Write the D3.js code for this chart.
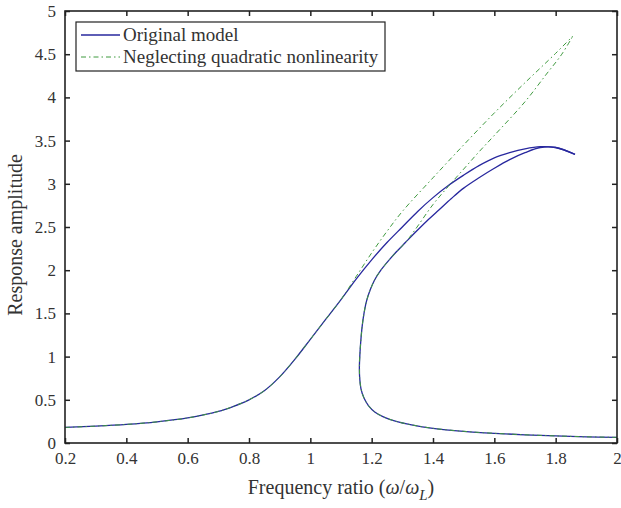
<!DOCTYPE html>
<html>
<head>
<meta charset="utf-8">
<script src="https://cdn.jsdelivr.net/npm/d3@7"></script>
<style>
  html, body { margin: 0; padding: 0; background: #fff; }
  svg { display: block; font-family: "Liberation Serif", "Times New Roman", serif; }
</style>
</head>
<body>
<svg id="chart" width="621" height="508"></svg>
<script>
// Frequency response: amplitude vs. frequency ratio, [ratio, amplitude] pairs.
// Shared low-frequency branch (both models coincide here).
const lowBranch = [
  [0.2, 0.18], [0.3, 0.195], [0.4, 0.215], [0.5, 0.245], [0.6, 0.29],
  [0.7, 0.365], [0.75, 0.425], [0.8, 0.5], [0.85, 0.605], [0.9, 0.765],
  [0.95, 0.97], [1.0, 1.2], [1.05, 1.43], [1.1, 1.66]
];
// Original model: upper (resonant) branch continuing from lowBranch.
const originalUpper = [
  [1.15, 1.9], [1.2, 2.12], [1.25, 2.32], [1.3, 2.5], [1.35, 2.68],
  [1.4, 2.84], [1.45, 2.98], [1.5, 3.1], [1.55, 3.21], [1.6, 3.3],
  [1.65, 3.36], [1.7, 3.405], [1.75, 3.43], [1.8, 3.42], [1.863, 3.34]
];
// Non-resonant branch from high frequency back through the turning point.
const highBranch = [
  [2.0, 0.065], [1.9, 0.072], [1.8, 0.082], [1.7, 0.095], [1.6, 0.112],
  [1.5, 0.135], [1.4, 0.17], [1.33, 0.21], [1.28, 0.25], [1.24, 0.3],
  [1.21, 0.36], [1.19, 0.43], [1.175, 0.52], [1.165, 0.63], [1.161, 0.75],
  [1.16, 0.88], [1.162, 1.05], [1.165, 1.2], [1.169, 1.35], [1.175, 1.5],
  [1.183, 1.64], [1.195, 1.77], [1.21, 1.89], [1.23, 2.0], [1.255, 2.11],
  [1.28, 2.21], [1.31, 2.32]
];
// Original model: middle (unstable) branch rising from highBranch.
const originalMiddle = [
  [1.34, 2.43], [1.38, 2.57], [1.42, 2.7], [1.46, 2.83], [1.5, 2.95],
  [1.55, 3.07], [1.6, 3.18], [1.65, 3.28], [1.7, 3.36], [1.75, 3.42],
  [1.8, 3.42], [1.863, 3.34]
];
// Model neglecting the quadratic nonlinearity: upper and middle branches.
const reducedUpper = [
  [1.15, 1.93], [1.2, 2.2], [1.25, 2.45], [1.3, 2.68], [1.4, 3.07],
  [1.5, 3.45], [1.6, 3.82], [1.7, 4.17], [1.8, 4.51], [1.856, 4.71]
];
const reducedMiddle = [
  [1.34, 2.46], [1.4, 2.76], [1.45, 2.97], [1.5, 3.17], [1.55, 3.37],
  [1.6, 3.56], [1.7, 3.95], [1.77, 4.27], [1.82, 4.5], [1.856, 4.71]
];

const xTicks = [0.2, 0.4, 0.6, 0.8, 1, 1.2, 1.4, 1.6, 1.8, 2];
const yTicks = [0, 0.5, 1, 1.5, 2, 2.5, 3, 3.5, 4, 4.5, 5];
const legendLabels = ["Original model", "Neglecting quadratic nonlinearity"];

const blue = "#28289e";
const green = "#3f9a3f";

const svg = d3.select("#chart");
const m = { left: 65, top: 11, right: 617, bottom: 443 };

const x = d3.scaleLinear().domain([0.2, 2]).range([m.left, m.right]);
const y = d3.scaleLinear().domain([0, 5]).range([m.bottom, m.top]);

svg.append("rect").attr("width", 621).attr("height", 508).attr("fill", "#fff");

const line = d3.line()
  .x(d => x(d[0]))
  .y(d => y(d[1]))
  .curve(d3.curveCatmullRom.alpha(0.5));

const plot = svg.append("g");

// Original model (solid)
[lowBranch.concat(originalUpper), highBranch.concat(originalMiddle)].forEach(pts => {
  plot.append("path").attr("d", line(pts))
    .attr("fill", "none").attr("stroke", blue).attr("stroke-width", 1.3);
});
// Reduced model (dash-dot)
[lowBranch.concat(reducedUpper), highBranch.concat(reducedMiddle)].forEach(pts => {
  plot.append("path").attr("d", line(pts))
    .attr("fill", "none").attr("stroke", green).attr("stroke-width", 1)
    .attr("stroke-dasharray", "5,3,1.5,3");
});

// Axes with inward ticks on all four sides
const tickSize = 17;
const axB = svg.append("g").attr("transform", `translate(0,${m.bottom})`)
  .call(d3.axisBottom(x).tickValues(xTicks).tickSize(-5).tickPadding(9).tickFormat(d3.format("")));
const axT = svg.append("g").attr("transform", `translate(0,${m.top})`)
  .call(d3.axisTop(x).tickValues(xTicks).tickSize(-5).tickFormat(""));
const axL = svg.append("g").attr("transform", `translate(${m.left},0)`)
  .call(d3.axisLeft(y).tickValues(yTicks).tickSize(-5).tickPadding(9).tickFormat(d3.format("")));
const axR = svg.append("g").attr("transform", `translate(${m.right},0)`)
  .call(d3.axisRight(y).tickValues(yTicks).tickSize(-5).tickFormat(""));

[axB, axT, axL, axR].forEach(g => {
  g.select(".domain").remove();
  g.selectAll(".tick line").attr("stroke", "#222").attr("stroke-width", 1.5);
  g.selectAll("text").attr("font-size", tickSize).attr("fill", "#333")
    .attr("font-family", "Liberation Serif, serif");
});

svg.append("rect")
  .attr("x", m.left).attr("y", m.top)
  .attr("width", m.right - m.left).attr("height", m.bottom - m.top)
  .attr("fill", "none").attr("stroke", "#222").attr("stroke-width", 1.6);

// Axis titles
const titleSize = 20;
svg.append("text")
  .attr("transform", `translate(22,${(m.top + m.bottom) / 2 + 8}) rotate(-90)`)
  .attr("text-anchor", "middle").attr("font-size", titleSize).attr("fill", "#333")
  .text("Response amplitude");

const xt = svg.append("text")
  .attr("x", (m.left + m.right) / 2).attr("y", 494)
  .attr("text-anchor", "middle").attr("font-size", titleSize).attr("fill", "#333");
xt.append("tspan").text("Frequency ratio (");
xt.append("tspan").attr("font-style", "italic").text("ω");
xt.append("tspan").text("/");
xt.append("tspan").attr("font-style", "italic").text("ω");
xt.append("tspan").attr("font-style", "italic").attr("font-size", 15).attr("dy", 6).text("L");
xt.append("tspan").attr("dy", -6).text(")");

// Legend
const lg = svg.append("g");
lg.append("rect").attr("x", 76).attr("y", 22).attr("width", 309).attr("height", 49)
  .attr("fill", "#fff").attr("stroke", "#222").attr("stroke-width", 1.2);
const styles = [
  { color: blue, dash: null, w: 1.3 },
  { color: green, dash: "5,3,1.5,3", w: 1 }
];
legendLabels.forEach((lab, i) => {
  const cy = 35 + i * 22;
  lg.append("line").attr("x1", 81).attr("x2", 120).attr("y1", cy).attr("y2", cy)
    .attr("stroke", styles[i].color).attr("stroke-width", styles[i].w)
    .attr("stroke-dasharray", styles[i].dash);
  lg.append("text").attr("x", 123).attr("y", cy + 6)
    .attr("font-size", 19).attr("fill", "#333").text(lab);
});
</script>
</body>
</html>
